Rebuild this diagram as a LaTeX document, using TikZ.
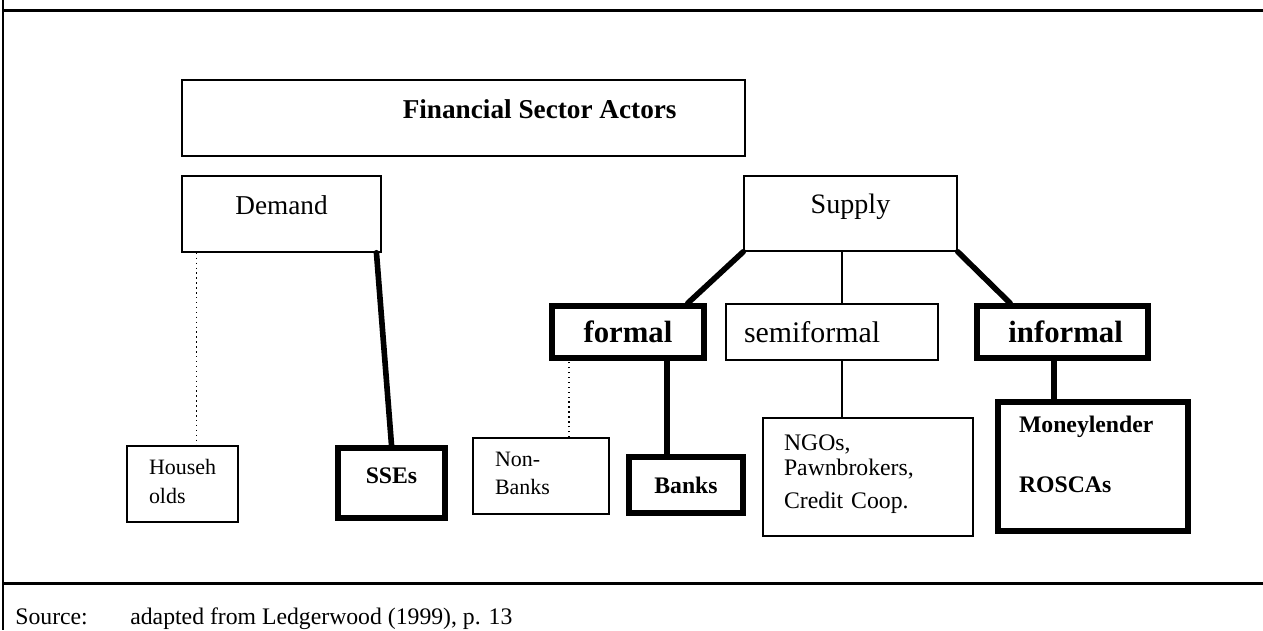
\documentclass[tikz,border=0pt]{standalone}
\usepackage{fontspec}
\setmainfont{Liberation Serif}
\usepackage{tikz}

\begin{document}
\begin{tikzpicture}[x=0.02cm,y=-0.02cm]
  \useasboundingbox (0,0) rectangle (1263,630);
  \tikzstyle {actorbox} = [shape=rectangle, draw=black, line width=0.85pt, inner sep=0pt];
  \tikzstyle {boldbox} = [actorbox, line width=3.2pt];
  \tikzstyle {thinline} = [line width=0.85pt];
  \tikzstyle {boldline} = [line width=3.2pt, line cap=round];
  \tikzstyle {dotline} = [line width=0.8pt, dotted];
  \draw [line width=1.2pt] (3,0) -- (3,630);
  \draw [line width=1.7pt] (3,10) -- (1263,10);
  \draw [line width=1.7pt] (3,583) -- (1263,583);
  \node (fsa) [actorbox, minimum width=11.26cm, minimum height=1.52cm, text height=4pt, text depth=4pt, font=\bfseries\fontsize{15.5}{18}\selectfont] at (463.5,118) {\hspace*{86.7pt}Financial Sector Actors};
  \node (demand) [actorbox, minimum width=3.98cm, minimum height=1.52cm, text height=3pt, text depth=3pt, font=\fontsize{15.5}{19}\selectfont] at (281.5,214) {Demand};
  \node (supply) [actorbox, minimum width=4.26cm, minimum height=1.5cm, text height=3pt, text depth=3pt, font=\fontsize{16}{19}\selectfont] at (850.5,213.5) {Supply};
  \node (hh) [actorbox, minimum width=2.22cm, minimum height=1.52cm, text width=1.34cm, align=left, text height=0pt, text depth=11.3pt, font=\fontsize{12.5}{17}\selectfont] at (182.5,484) {Househ\\olds};
  \node (sses) [boldbox, minimum width=2.15cm, minimum height=1.41cm, text height=3pt, text depth=3pt, font=\bfseries\fontsize{13.5}{16}\selectfont] at (391.5,483) {SSEs};
  \node (formal) [boldbox, minimum width=3.04cm, minimum height=1.04cm, font=\bfseries\fontsize{17.5}{21}\selectfont] at (628,332) {formal};
  \node (semi) [actorbox, minimum width=4.24cm, minimum height=1.12cm, text width=3.52cm, align=left, font=\fontsize{17}{20}\selectfont] at (832,332) {semiformal};
  \node (informal) [boldbox, minimum width=3.42cm, minimum height=1.04cm, font=\bfseries\fontsize{17.5}{21}\selectfont] at (1062.5,332) {\hspace*{3.5pt}informal};
  \node (nbanks) [actorbox, minimum width=2.72cm, minimum height=1.52cm, text width=1.84cm, align=left, text height=0pt, text depth=11.3pt, font=\fontsize{12.5}{15.9}\selectfont] at (541,476) {Non-\\Banks};
  \node (banks) [boldbox, minimum width=2.28cm, minimum height=1.12cm, font=\bfseries\fontsize{13.5}{16}\selectfont] at (686,485) {Banks};
  \node (ngos) [actorbox, minimum width=4.2cm, minimum height=2.36cm, text width=3.36cm, align=left, text height=0pt, text depth=30.6pt, font=\fontsize{13.5}{14.2}\selectfont] at (868,477) {NGOs,\\Pawnbrokers,\\[5.1pt]Credit Coop.};
  \node (money) [boldbox, minimum width=3.8cm, minimum height=2.58cm, text width=2.96cm, align=left, text height=0pt, text depth=39.1pt, font=\bfseries\fontsize{13.5}{16.2}\selectfont] at (1093,466.5) {Moneylender\\[18.4pt]ROSCAs};
  \draw [dotline] ([xshift=8.5pt]demand.south west) -- ([xshift=8.5pt]demand.south west |- hh.north);
  \draw [boldline] ([xshift=-3pt]demand.south east) -- (sses.north);
  \draw [boldline] (supply.south west) -- ([xshift=34pt]formal.north);
  \draw [thinline] ([xshift=5.7pt]semi.north) -- ([xshift=5.7pt]semi.north |- supply.south);
  \draw [thinline] ([xshift=5.7pt]semi.south) -- ([xshift=5.7pt]semi.south |- ngos.north);
  \draw [boldline] (supply.south east) -- ([xshift=-29.8pt]informal.north);
  \draw [boldline] ([xshift=-4.8pt]informal.south) -- ([xshift=-4.8pt]informal.south |- money.north);
  \draw [dotline] ([xshift=15.9pt]nbanks.north) -- ([xshift=15.9pt]nbanks.north |- formal.south);
  \draw [boldline] ([xshift=-10.8pt]banks.north) -- ([xshift=-10.8pt]banks.north |- formal.south);
  \node (srclabel) [anchor=base west, inner sep=0pt, font=\fontsize{13.5}{16}\selectfont] at (15,624) {Source:};
  \node (srcref) [anchor=base west, inner sep=0pt, font=\fontsize{13.5}{16}\selectfont] at (130,624) {adapted from Ledgerwood (1999), p. 13};
\end{tikzpicture}
\end{document}
